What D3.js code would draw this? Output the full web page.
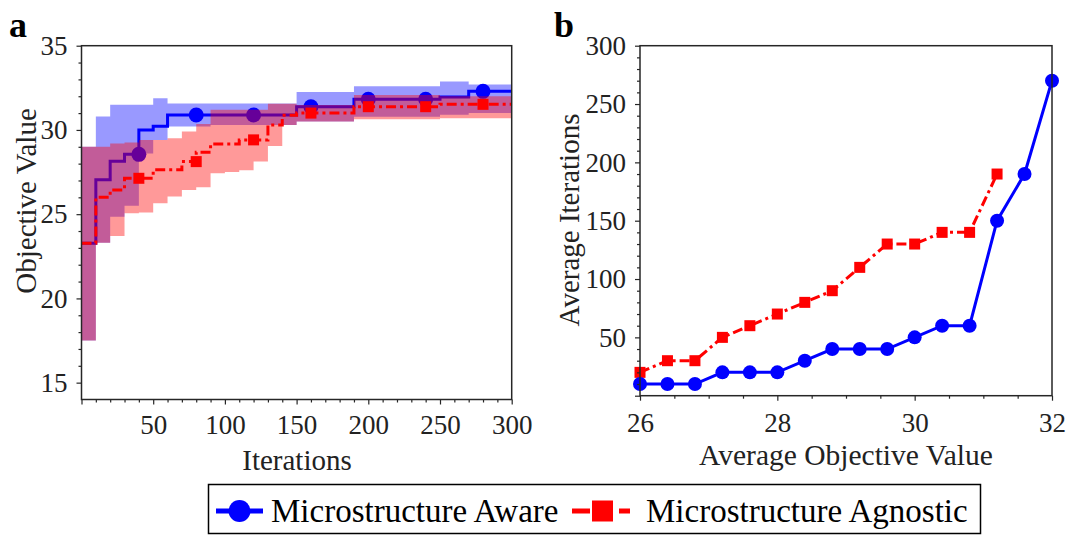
<!DOCTYPE html>
<html>
<head>
<meta charset="utf-8">
<script src="https://cdn.jsdelivr.net/npm/d3@7"></script>
<style>
  html, body { margin: 0; padding: 0; background: #fff; }
  svg { display: block; }
  text { font-family: "Liberation Serif", "Times New Roman", serif; fill: #222; }
</style>
</head>
<body>
<svg id="fig" width="1068" height="535"></svg>
<script>
// ---- Panel a: best objective value vs. iteration (10-iteration batches) ----
const blockStart = [0, 10, 20, 30, 40, 50, 60, 70, 80, 90, 100, 110, 120, 130, 140,
                    150, 160, 170, 180, 190, 200, 210, 220, 230, 240, 250, 260, 270, 280, 290];
const lastIteration = 300;

const awareMean = [23.28, 27.05, 28.14, 28.55, 30.0, 30.22, 30.89, 30.89, 30.89, 30.89,
                   30.89, 30.89, 30.89, 30.89, 30.89, 31.38, 31.38, 31.38, 31.38, 31.82,
                   31.82, 31.82, 31.82, 31.82, 31.82, 31.96, 31.96, 32.29, 32.29, 32.29];
const awareHigh = [29.0, 30.8, 31.5, 31.5, 31.5, 31.88, 31.57, 31.57, 31.57, 31.57,
                   31.57, 31.57, 31.57, 31.57, 31.57, 32.25, 32.25, 32.25, 32.25, 32.6,
                   32.6, 32.6, 32.6, 32.6, 32.6, 32.87, 32.87, 32.7, 32.7, 32.7];
const awareLow  = [17.5, 23.3, 24.85, 25.5, 28.6, 29.4, 30.2, 30.2, 30.2, 30.3,
                   30.3, 30.3, 30.3, 30.3, 30.3, 30.5, 30.5, 30.5, 30.5, 30.79,
                   30.79, 30.79, 30.79, 30.79, 30.79, 30.9, 30.9, 31.0, 31.0, 31.0];

const agnosticMean = [23.28, 26.0, 26.44, 27.13, 27.13, 27.63, 27.63, 28.12, 28.68, 29.17,
                      29.17, 29.41, 29.41, 30.3, 30.87, 31.0, 31.0, 31.0, 31.0, 31.38,
                      31.38, 31.38, 31.38, 31.38, 31.38, 31.52, 31.52, 31.52, 31.52, 31.52];
const agnosticHigh = [29.0, 29.0, 29.2, 29.25, 29.4, 29.4, 29.5, 29.9, 30.35, 31.2,
                      31.2, 31.2, 31.2, 31.55, 31.55, 31.48, 31.48, 31.48, 31.48, 32.08,
                      32.08, 32.08, 32.08, 32.08, 32.08, 32.0, 32.0, 32.0, 32.0, 32.0];
const agnosticLow  = [17.5, 23.3, 23.7, 25.05, 25.1, 25.65, 26.05, 26.44, 26.6, 27.43,
                      27.5, 27.6, 28.12, 29.05, 30.3, 30.5, 30.5, 30.5, 30.5, 30.64,
                      30.64, 30.64, 30.64, 30.64, 30.64, 30.7, 30.7, 30.7, 30.7, 30.7];

const markerIters = [40, 80, 120, 160, 200, 240, 280];
const iterTickLabels = [50, 100, 150, 200, 250, 300];
const objTickLabels = [15, 20, 25, 30, 35];

// ---- Panel b: iterations needed to reach an average objective value ----
const avgObjAware    = [26, 26.4, 26.8, 27.2, 27.6, 28, 28.4, 28.8, 29.2, 29.6, 30, 30.4, 30.8, 31.2, 31.6, 32];
const avgItersAware  = [10, 10, 10, 20, 20, 20, 30, 40, 40, 40, 50, 60, 60, 150, 190, 270];
const avgObjAgnostic   = [26, 26.4, 26.8, 27.2, 27.6, 28, 28.4, 28.8, 29.2, 29.6, 30, 30.4, 30.8, 31.2];
const avgItersAgnostic = [20, 30, 30, 50, 60, 70, 80, 90, 110, 130, 130, 140, 140, 190];
const avgObjTickLabels = [26, 28, 30, 32];
const avgIterTickLabels = [50, 100, 150, 200, 250, 300];

const seriesNames = ["Microstructure Aware", "Microstructure Agnostic"];

const BLUE = "#0000ff", RED = "#ff0000";
const AXIS = "#262626";
const SERIF = '"Liberation Serif", "Times New Roman", serif';
const svg = d3.select("#fig");

// Draws a boxed axis frame with outward major/minor ticks.
function drawFrame(g, x, y, opts) {
  const [x0, x1] = x.range();
  const [y0, y1] = y.range();
  const minorX = g.append("g").attr("transform", `translate(0,${y0})`)
    .call(d3.axisBottom(x).tickValues(opts.xMinor).tickSize(3).tickFormat(""));
  const minorY = g.append("g").attr("transform", `translate(${x0},0)`)
    .call(d3.axisLeft(y).tickValues(opts.yMinor).tickSize(3).tickFormat(""));
  const majorX = g.append("g").attr("transform", `translate(0,${y0})`)
    .call(d3.axisBottom(x).tickValues(opts.xMajor).tickSize(5).tickPadding(opts.xPad)
      .tickFormat(d => opts.xLabels.includes(d) ? d3.format("d")(d) : ""));
  const majorY = g.append("g").attr("transform", `translate(${x0},0)`)
    .call(d3.axisLeft(y).tickValues(opts.yMajor).tickSize(5).tickPadding(opts.yPad)
      .tickFormat(d => opts.yLabels.includes(d) ? d3.format("d")(d) : ""));
  [minorX, minorY, majorX, majorY].forEach(a => {
    a.attr("font-family", null).attr("font-size", null);
    a.select(".domain").remove();
    a.selectAll(".tick line").attr("stroke", AXIS).attr("stroke-width", 1.2);
    a.selectAll(".tick text").attr("fill", null)
      .style("font-family", SERIF).style("font-size", "27px").style("fill", "#222");
  });
  g.append("rect")
    .attr("x", x0).attr("y", y1)
    .attr("width", x1 - x0).attr("height", y0 - y1)
    .attr("fill", "none").attr("stroke", AXIS).attr("stroke-width", 1.5);
}

function addText(g, str, size, attrs) {
  const t = g.append("text").text(str)
    .style("font-family", SERIF).style("font-size", size + "px");
  Object.entries(attrs).forEach(([k, v]) => t.attr(k, v));
  return t;
}

// ================= Panel a =================
{
  const g = svg.append("g");
  const x = d3.scaleLinear().domain([0, lastIteration]).range([81.5, 511.7]);
  const y = d3.scaleLinear().domain([14, 35]).range([399.5, 45.7]);

  const stepPts = (vals) => blockStart.map((b, i) => [b, vals[i]])
    .concat([[lastIteration, vals[vals.length - 1]]]);

  const bandPts = (lo, hi) => blockStart.map((b, i) => ({ x: b, lo: lo[i], hi: hi[i] }))
    .concat([{ x: lastIteration, lo: lo[lo.length - 1], hi: hi[hi.length - 1] }]);

  const area = d3.area().curve(d3.curveStepAfter)
    .x(d => x(d.x)).y0(d => y(d.lo)).y1(d => y(d.hi));
  const line = d3.line().curve(d3.curveStepAfter)
    .x(d => x(d[0])).y(d => y(d[1]));

  // value at a marker iteration = the batch that ends there
  const valueAt = (vals, it) => vals[blockStart.indexOf(it) - 1];

  const plot = g.append("g");
  // Aware band + line
  plot.append("path").datum(bandPts(awareLow, awareHigh))
    .attr("d", area).attr("fill", BLUE).attr("fill-opacity", 0.4);
  plot.append("path").datum(stepPts(awareMean))
    .attr("d", line).attr("fill", "none").attr("stroke", BLUE).attr("stroke-width", 3);
  plot.selectAll("circle.aware").data(markerIters).enter().append("circle")
    .attr("cx", d => x(d)).attr("cy", d => y(valueAt(awareMean, d)))
    .attr("r", 7.5).attr("fill", BLUE);
  // Agnostic band + line
  plot.append("path").datum(bandPts(agnosticLow, agnosticHigh))
    .attr("d", area).attr("fill", RED).attr("fill-opacity", 0.4);
  plot.append("path").datum(stepPts(agnosticMean))
    .attr("d", line).attr("fill", "none").attr("stroke", RED).attr("stroke-width", 3)
    .attr("stroke-dasharray", "10,4,3,4");
  plot.selectAll("rect.agn").data(markerIters).enter().append("rect")
    .attr("x", d => x(d) - 5.5).attr("y", d => y(valueAt(agnosticMean, d)) - 5.5)
    .attr("width", 11).attr("height", 11).attr("fill", RED);

  drawFrame(g, x, y, {
    xMajor: [0].concat(iterTickLabels), xLabels: iterTickLabels,
    xMinor: d3.range(10, 300, 10).filter(v => v % 50 !== 0),
    yMajor: objTickLabels, yLabels: objTickLabels,
    yMinor: d3.range(15, 35, 1).filter(v => v % 5 !== 0),
    xPad: 10, yPad: 9
  });

  addText(g, "Iterations", 29, { x: 297, y: 470, "text-anchor": "middle" });
  addText(g, "Objective Value", 29, { transform: "translate(36,201) rotate(-90)", "text-anchor": "middle" });
  addText(g, "a", 36, { x: 9, y: 37, "font-weight": "bold" }).style("fill", "#000");
}

// ================= Panel b =================
{
  const g = svg.append("g");
  const x = d3.scaleLinear().domain([26, 32]).range([640, 1052]);
  const y = d3.scaleLinear().domain([0, 300]).range([395.7, 45.7]);

  const line = d3.line().x(d => x(d[0])).y(d => y(d[1]));
  const aware = avgObjAware.map((v, i) => [v, avgItersAware[i]]);
  const agn = avgObjAgnostic.map((v, i) => [v, avgItersAgnostic[i]]);

  g.append("path").datum(agn).attr("d", line).attr("fill", "none")
    .attr("stroke", RED).attr("stroke-width", 3).attr("stroke-dasharray", "10,4,3,4");
  g.selectAll("rect.agn").data(agn).enter().append("rect")
    .attr("x", d => x(d[0]) - 5.5).attr("y", d => y(d[1]) - 5.5)
    .attr("width", 11).attr("height", 11).attr("fill", RED);
  g.append("path").datum(aware).attr("d", line).attr("fill", "none")
    .attr("stroke", BLUE).attr("stroke-width", 3);
  g.selectAll("circle.aware").data(aware).enter().append("circle")
    .attr("cx", d => x(d[0])).attr("cy", d => y(d[1])).attr("r", 7).attr("fill", BLUE);

  drawFrame(g, x, y, {
    xMajor: avgObjTickLabels, xLabels: avgObjTickLabels,
    xMinor: [26.5, 27, 27.5, 28.5, 29, 29.5, 30.5, 31, 31.5],
    yMajor: [0].concat(avgIterTickLabels), yLabels: avgIterTickLabels,
    yMinor: d3.range(10, 300, 10).filter(v => v % 50 !== 0),
    xPad: 12, yPad: 9
  });

  addText(g, "Average Objective Value", 29.5, { x: 846, y: 465, "text-anchor": "middle" });
  addText(g, "Average Iterations", 29, { transform: "translate(579,220) rotate(-90)", "text-anchor": "middle" });
  addText(g, "b", 36, { x: 554, y: 37, "font-weight": "bold" }).style("fill", "#000");
}

// ================= Legend =================
{
  const g = svg.append("g");
  g.append("rect").attr("x", 208.5).attr("y", 484.5).attr("width", 772).attr("height", 49)
    .attr("fill", "#fff").attr("stroke", "#000").attr("stroke-width", 1.5);
  const cy = 511;
  g.append("line").attr("x1", 216).attr("x2", 263).attr("y1", cy).attr("y2", cy)
    .attr("stroke", BLUE).attr("stroke-width", 5);
  g.append("circle").attr("cx", 239.5).attr("cy", cy).attr("r", 11).attr("fill", BLUE);
  addText(g, seriesNames[0], 33, { x: 271, y: cy + 11 }).style("fill", "#000");

  g.append("line").attr("x1", 572).attr("x2", 590).attr("y1", cy).attr("y2", cy)
    .attr("stroke", RED).attr("stroke-width", 5);
  g.append("rect").attr("x", 592).attr("y", cy - 10.5).attr("width", 21).attr("height", 21)
    .attr("fill", RED);
  g.append("line").attr("x1", 619).attr("x2", 630).attr("y1", cy).attr("y2", cy)
    .attr("stroke", RED).attr("stroke-width", 5);
  addText(g, seriesNames[1], 33, { x: 646, y: cy + 11 }).style("fill", "#000");
}
</script>
</body>
</html>
